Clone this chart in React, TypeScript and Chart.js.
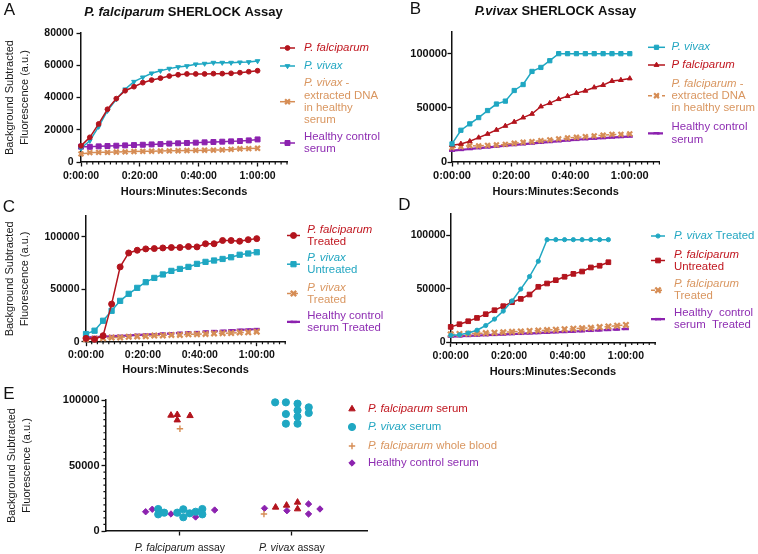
import React, { useEffect, useRef } from 'react';
import { Chart, registerables } from 'chart.js';
import { drawPoint } from 'chart.js/helpers';

Chart.register(...registerables);

const FONT = '"Liberation Sans", Arial, Helvetica, sans-serif';
const INK = '#111111';
const RED = '#B3141D';
const CYAN = '#1FA7C2';
const ORANGE = '#D68D55';
const PURPLE = '#8C22AF';

// ---------------- data ----------------
const timeMin = [0, 3, 6, 9, 12, 15, 18, 21, 24, 27, 30, 33, 36, 39, 42, 45, 48, 51, 54, 57, 60];
const timeTicks = [0, 20, 40, 60];

// Panel A – P. falciparum SHERLOCK assay
const aPfalciparum = [10000, 15300, 23600, 32700, 39300, 44200, 46700, 49200, 50800, 52000, 53300, 54100, 54600, 54600, 54600, 54800, 54800, 55000, 55400, 56000, 56600];
const aPvivax = [8500, 13200, 21900, 31800, 38900, 45100, 49800, 52500, 55000, 56600, 57900, 58900, 59500, 60600, 61000, 61600, 61600, 61600, 61800, 62000, 62600];
const aPvExtracted = [5000, 5800, 6000, 6000, 6200, 6300, 6500, 6600, 6700, 6800, 6900, 7000, 7100, 7200, 7300, 7400, 7500, 7800, 8200, 8300, 8500];
const aHealthy = [9500, 9400, 9700, 9900, 10100, 10300, 10500, 10700, 10900, 11100, 11400, 11600, 11800, 12000, 12200, 12400, 12600, 12800, 13000, 13400, 14000];

// Panel B – P. vivax SHERLOCK assay
const bPvivax = [16700, 29300, 35200, 41000, 47500, 53500, 56200, 66000, 71500, 83600, 87300, 93500, 100000, 100000, 100000, 100000, 100000, 100000, 100000, 100000, 100000];
const bPfalciparum = [15400, 16700, 19100, 22500, 25900, 29600, 33300, 37000, 41000, 44400, 51200, 54300, 58000, 60800, 63600, 65700, 68800, 71000, 74700, 75600, 77100];
const bPfExtracted = [13300, 14200, 15100, 14800, 15400, 15700, 16300, 17300, 18200, 18800, 19700, 20400, 21300, 22200, 22800, 23400, 24100, 24700, 25500, 25500, 25900];
const bHealthy = [10500, 11200, 12000, 12800, 13500, 14200, 15000, 15700, 16400, 17100, 17800, 18500, 19200, 19900, 20500, 21100, 21600, 22100, 22600, 23100, 23500];

// Panel C
const cPfTreated = [3200, 2300, 5700, 35900, 71400, 84700, 87300, 88600, 88900, 89500, 89900, 89900, 90800, 90500, 93500, 93500, 96600, 96600, 95900, 97400, 98400];
const cPvUntreated = [7300, 10500, 20000, 29500, 39000, 45700, 51400, 56800, 60900, 64200, 67600, 69500, 71400, 74300, 76200, 77500, 79000, 80600, 83000, 84200, 85400];
const cPvTreated = [2300, 2900, 3200, 3900, 4100, 4700, 5000, 5300, 5800, 6000, 6400, 6500, 7000, 7200, 7400, 7900, 8100, 8300, 8800, 9000, 9500];
const cHealthyTreated = [4000, 4500, 4700, 5300, 5600, 5900, 6500, 6800, 7100, 7700, 7900, 8400, 8900, 9100, 9600, 10100, 10300, 10800, 11300, 11600, 12000];

// Panel D
const dPvTreated = [6500, 7000, 8700, 11300, 15700, 21700, 29200, 38700, 49800, 61500, 75800, 96000, 96000, 96000, 96000, 96000, 96000, 96000, 96000, null, null];
const dPfUntreated = [14400, 16900, 19700, 22800, 26300, 30000, 33800, 37500, 40600, 44700, 51900, 55000, 58100, 61300, 64000, 66200, 70000, 71600, 74900, null, null];
const dPfTreated = [7500, 7800, 8100, 8300, 8600, 9000, 9400, 9800, 10200, 10600, 11000, 11400, 11800, 12300, 12700, 13200, 13600, 14200, 14800, 15500, 16200];
const dHealthyTreated = [5300, 5600, 6000, 6300, 6700, 7000, 7300, 7700, 8000, 8300, 8700, 9000, 9400, 9700, 10000, 10400, 10800, 11200, 11600, 12000, 12500];

// Panel E – end-point values (x = category position 1 or 2 plus jitter)
const ePfSerumX = [0.92, 0.976, 0.976, 1.09, 1.854, 1.952, 2.05, 2.05];
const ePfSerumY = [88300, 88800, 84700, 88000, 18100, 19600, 21900, 16800];
const ePvSerumX = [0.806, 0.806, 0.86, 0.976, 1.03, 1.03, 1.087, 1.14, 1.2, 1.2, 1.85, 1.946, 2.05, 2.15, 1.946, 2.05, 2.15, 2.05, 1.946, 2.05];
const ePvSerumY = [16800, 12700, 14000, 14000, 16600, 10500, 13500, 14700, 16800, 12700, 98200, 98200, 97200, 94400, 89300, 92100, 90100, 87300, 81900, 81900];
const ePfBloodX = [1.0, 1.75];
const ePfBloodY = [78100, 13000];
const eHealthyX = [0.694, 0.753, 0.92, 1.14, 1.31, 1.755, 1.955, 2.148, 2.148, 2.25];
const eHealthyY = [14700, 16600, 13000, 10700, 16000, 17300, 15500, 20600, 13000, 16800];
const eCategoryPos = [1, 2];

// ---------------- helpers ----------------
type Seg = { t: string; i?: boolean; b?: boolean };
type Marker = { style: string; r: number; rot?: number; bw?: number };
type SeriesStyle = { color: string; text: string; mk: Marker; dash?: number[]; lw?: number };
type LegendItem = { lines: Seg[][]; st: SeriesStyle; y: number };

const timeMinor: number[] = [];
for (let m = 2; m <= 70; m += 2) if (m % 20 !== 0) timeMinor.push(m);
const eYMinor: number[] = [];
for (let v = 5000; v < 100000; v += 5000) if (v !== 50000) eYMinor.push(v);

function fmtTime(v: number) {
  const h = Math.floor(v / 60);
  const m = v % 60;
  return `${h}:${String(m).padStart(2, '0')}:00`;
}

function segFont(s: Seg, size: number) {
  return `${s.i ? 'italic ' : ''}${s.b ? 'bold ' : ''}${size}px ${FONT}`;
}
function segsWidth(ctx: CanvasRenderingContext2D, segs: Seg[], size: number) {
  let w = 0;
  for (const s of segs) {
    ctx.font = segFont(s, size);
    w += ctx.measureText(s.t).width;
  }
  return w;
}
function drawSegs(ctx: CanvasRenderingContext2D, segs: Seg[], x: number, y: number, size: number, color: string, center = false) {
  let cx = center ? x - segsWidth(ctx, segs, size) / 2 : x;
  ctx.fillStyle = color;
  ctx.textAlign = 'left';
  ctx.textBaseline = 'middle';
  for (const s of segs) {
    ctx.font = segFont(s, size);
    ctx.fillText(s.t, cx, y);
    cx += ctx.measureText(s.t).width;
  }
}

function lineDs(label: string, values: (number | null)[], st: SeriesStyle) {
  return {
    label,
    data: timeMin.map((t, i) => ({ x: t, y: values[i] })),
    borderColor: st.color,
    backgroundColor: st.color,
    borderWidth: st.lw ?? 1.5,
    borderDash: st.dash ?? [],
    pointStyle: st.mk.style,
    pointRadius: st.mk.r,
    pointRotation: st.mk.rot ?? 0,
    pointBorderWidth: st.mk.bw ?? 1,
    pointBackgroundColor: st.color,
    pointBorderColor: st.color,
    tension: 0,
    clip: false,
    spanGaps: false,
  };
}

function scatterDs(label: string, xs: number[], ys: number[], st: SeriesStyle) {
  return {
    label,
    data: xs.map((x, i) => ({ x, y: ys[i] })),
    showLine: false,
    borderColor: st.color,
    backgroundColor: st.color,
    pointStyle: st.mk.style,
    pointRadius: st.mk.r,
    pointRotation: st.mk.rot ?? 0,
    pointBorderWidth: st.mk.bw ?? 1,
    pointBackgroundColor: st.color,
    pointBorderColor: st.color,
    clip: false,
  };
}

// ---------------- styles ----------------
const TXT_RED = '#C0161F';
const TXT_CYAN = '#22A6C1';
const TXT_OR = '#D99660';
const TXT_PU = '#8E2DB2';

const aRed: SeriesStyle = { color: RED, text: TXT_RED, mk: { style: 'circle', r: 2.4 } };
const aCyan: SeriesStyle = { color: CYAN, text: TXT_CYAN, mk: { style: 'triangle', r: 2.7, rot: 180 } };
const aOr: SeriesStyle = { color: ORANGE, text: TXT_OR, mk: { style: 'crossRot', r: 3.4, bw: 2.2 } };
const aPu: SeriesStyle = { color: PURPLE, text: TXT_PU, mk: { style: 'rect', r: 3.5 } };

const bCyan: SeriesStyle = { color: CYAN, text: TXT_CYAN, mk: { style: 'rect', r: 3 } };
const bRed: SeriesStyle = { color: RED, text: TXT_RED, mk: { style: 'triangle', r: 2.8 } };
const bOr: SeriesStyle = { color: ORANGE, text: TXT_OR, mk: { style: 'crossRot', r: 3.4, bw: 2.2 }, dash: [4, 3] };
const bPu: SeriesStyle = { color: PURPLE, text: TXT_PU, mk: { style: 'line', r: 3, bw: 2.6 }, dash: [6, 3], lw: 2.2 };

const cRed: SeriesStyle = { color: RED, text: TXT_RED, mk: { style: 'circle', r: 3 } };
const cCyan: SeriesStyle = { color: CYAN, text: TXT_CYAN, mk: { style: 'rect', r: 3.7 } };
const cOr: SeriesStyle = { color: ORANGE, text: TXT_OR, mk: { style: 'crossRot', r: 3.8, bw: 2.3 }, dash: [4, 3] };
const cPu: SeriesStyle = { color: PURPLE, text: TXT_PU, mk: { style: 'line', r: 3, bw: 2.6 }, dash: [6, 3], lw: 2.2 };

const dCyan: SeriesStyle = { color: CYAN, text: TXT_CYAN, mk: { style: 'circle', r: 2.1 } };
const dRed: SeriesStyle = { color: RED, text: TXT_RED, mk: { style: 'rect', r: 3.3 } };
const dOr: SeriesStyle = { color: ORANGE, text: TXT_OR, mk: { style: 'crossRot', r: 3.8, bw: 2.3 }, dash: [4, 3] };
const dPu: SeriesStyle = { color: PURPLE, text: TXT_PU, mk: { style: 'line', r: 3, bw: 2.6 }, dash: [6, 3], lw: 2.2 };

const eRed: SeriesStyle = { color: RED, text: TXT_RED, mk: { style: 'triangle', r: 3.7 } };
const eCyan: SeriesStyle = { color: CYAN, text: TXT_CYAN, mk: { style: 'circle', r: 3.6 } };
const eOr: SeriesStyle = { color: ORANGE, text: TXT_OR, mk: { style: 'cross', r: 3.2, bw: 1.4 } };
const ePu: SeriesStyle = { color: PURPLE, text: TXT_PU, mk: { style: 'rectRot', r: 3.2 } };

// ---------------- panel configs ----------------
interface PanelCfg {
  id: string; x: number; y: number; w: number; h: number;
  kind: 'time' | 'scatter';
  datasets: any[];
  xMin: number; xMax: number; xMajor: number[]; xMinor: number[];
  yMax: number; yMajor: number[]; yMinor: number[];
  yTitle?: string[];
  padding: { left: number; right: number; top: number; bottom: number };
  yWidth: number; xHeight: number; yTickPad: number; xTickPad: number; tickSize: number;
  letter: { t: string; x: number; y: number };
  title?: { segs: Seg[]; x: number; y: number };
  legend: { x0: number; x1: number; tx: number; lh: number; size: number; line: boolean; items: LegendItem[] };
  catLabels?: { segs: Seg[]; v: number }[];
  catY?: number;
}

const Y_TITLE = ['Background Subtracted', 'Fluorescence (a.u.)'];

const panels: PanelCfg[] = [
  {
    id: 'A', x: 0, y: 0, w: 390, h: 200, kind: 'time',
    datasets: [
      lineDs('P. falciparum', aPfalciparum, aRed),
      lineDs('P. vivax', aPvivax, aCyan),
      lineDs('P. vivax - extracted DNA in healthy serum', aPvExtracted, aOr),
      lineDs('Healthy control serum', aHealthy, aPu),
    ],
    xMin: 0, xMax: 70, xMajor: timeTicks, xMinor: timeMinor,
    yMax: 80000, yMajor: [0, 20000, 40000, 60000, 80000], yMinor: [],
    yTitle: Y_TITLE,
    padding: { left: 2.6, top: 33, right: 103, bottom: 1.4 },
    yWidth: 78.4, xHeight: 36.6, yTickPad: 3, xTickPad: 3.4, tickSize: 10.5,
    letter: { t: 'A', x: 9.5, y: 10 },
    title: { segs: [{ t: 'P. falciparum', i: true, b: true }, { t: ' SHERLOCK Assay', b: true }], x: 183.5, y: 12 },
    legend: {
      x0: 280, x1: 295, tx: 304, lh: 12.3, size: 11.4, line: true,
      items: [
        { lines: [[{ t: 'P. falciparum', i: true }]], st: aRed, y: 48 },
        { lines: [[{ t: 'P. vivax', i: true }]], st: aCyan, y: 66 },
        { lines: [[{ t: 'P. vivax', i: true }, { t: ' -' }], [{ t: 'extracted DNA' }], [{ t: 'in healthy' }], [{ t: 'serum' }]], st: aOr, y: 101.7 },
        { lines: [[{ t: 'Healthy control' }], [{ t: 'serum' }]], st: aPu, y: 143 },
      ],
    },
  },
  {
    id: 'B', x: 378, y: 0, w: 380, h: 200, kind: 'time',
    datasets: [
      lineDs('P. vivax', bPvivax, bCyan),
      lineDs('P falciparum', bPfalciparum, bRed),
      lineDs('P. falciparum - extracted DNA in healthy serum', bPfExtracted, bOr),
      lineDs('Healthy control serum', bHealthy, bPu),
    ],
    xMin: 0, xMax: 70, xMajor: timeTicks, xMinor: timeMinor,
    yMax: 120000, yMajor: [0, 50000, 100000], yMinor: [],
    padding: { left: 4, top: 32, right: 98.6, bottom: 1.4 },
    yWidth: 70, xHeight: 36.6, yTickPad: 0.5, xTickPad: 3, tickSize: 11,
    letter: { t: 'B', x: 37.5, y: 9 },
    title: { segs: [{ t: 'P.vivax', i: true, b: true }, { t: ' SHERLOCK Assay', b: true }], x: 177.5, y: 11.7 },
    legend: {
      x0: 270, x1: 287, tx: 293.5, lh: 12.3, size: 11.4, line: true,
      items: [
        { lines: [[{ t: 'P. vivax', i: true }]], st: bCyan, y: 47.3 },
        { lines: [[{ t: 'P falciparum', i: true }]], st: bRed, y: 65 },
        { lines: [[{ t: 'P. falciparum', i: true }, { t: ' -' }], [{ t: 'extracted DNA' }], [{ t: 'in healthy serum' }]], st: bOr, y: 95.7 },
        { lines: [[{ t: 'Healthy control' }], [{ t: 'serum' }]], st: bPu, y: 133.3 },
      ],
    },
  },
  {
    id: 'C', x: 0, y: 190, w: 390, h: 195, kind: 'time',
    datasets: [
      lineDs('P. falciparum Treated', cPfTreated, cRed),
      lineDs('P. vivax Untreated', cPvUntreated, cCyan),
      lineDs('P. vivax Treated', cPvTreated, cOr),
      lineDs('Healthy control serum Treated', cHealthyTreated, cPu),
    ],
    xMin: 0, xMax: 70, xMajor: timeTicks, xMinor: timeMinor,
    yMax: 120000, yMajor: [0, 50000, 100000], yMinor: [],
    yTitle: Y_TITLE,
    padding: { left: 2.6, top: 26, right: 104.8, bottom: 8.4 },
    yWidth: 83.4, xHeight: 34.9, yTickPad: 2, xTickPad: 3, tickSize: 10.5,
    letter: { t: 'C', x: 9, y: 17.5 },
    legend: {
      x0: 287, x1: 300, tx: 307.3, lh: 12.3, size: 11.4, line: true,
      items: [
        { lines: [[{ t: 'P. falciparum', i: true }], [{ t: 'Treated' }]], st: cRed, y: 45.5 },
        { lines: [[{ t: 'P. vivax', i: true }], [{ t: 'Untreated' }]], st: cCyan, y: 74.2 },
        { lines: [[{ t: 'P. vivax', i: true }], [{ t: 'Treated' }]], st: cOr, y: 103.5 },
        { lines: [[{ t: 'Healthy control' }], [{ t: 'serum Treated' }]], st: cPu, y: 131.9 },
      ],
    },
  },
  {
    id: 'D', x: 378, y: 190, w: 380, h: 195, kind: 'time',
    datasets: [
      lineDs('P. vivax Treated', dPvTreated, dCyan),
      lineDs('P. falciparum Untreated', dPfUntreated, dRed),
      lineDs('P. falciparum Treated', dPfTreated, dOr),
      lineDs('Healthy control serum Treated', dHealthyTreated, dPu),
    ],
    xMin: 0, xMax: 70, xMajor: timeTicks, xMinor: timeMinor,
    yMax: 120000, yMajor: [0, 50000, 100000], yMinor: [],
    padding: { left: 4, top: 24, right: 102.9, bottom: 6.7 },
    yWidth: 68.7, xHeight: 36, yTickPad: 0.5, xTickPad: 3.1, tickSize: 10.5,
    letter: { t: 'D', x: 26.5, y: 15 },
    legend: {
      x0: 273, x1: 287, tx: 296, lh: 12.3, size: 11.4, line: true,
      items: [
        { lines: [[{ t: 'P. vivax', i: true }, { t: ' Treated' }]], st: dCyan, y: 46 },
        { lines: [[{ t: 'P. falciparum', i: true }], [{ t: 'Untreated' }]], st: dRed, y: 70.5 },
        { lines: [[{ t: 'P. falciparum', i: true }], [{ t: 'Treated' }]], st: dOr, y: 100.2 },
        { lines: [[{ t: 'Healthy  control' }], [{ t: 'serum  Treated' }]], st: dPu, y: 129.2 },
      ],
    },
  },
  {
    id: 'E', x: 0, y: 385, w: 600, h: 169, kind: 'scatter',
    datasets: [
      scatterDs('P. falciparum serum', ePfSerumX, ePfSerumY, eRed),
      scatterDs('P. vivax serum', ePvSerumX, ePvSerumY, eCyan),
      scatterDs('P. falciparum whole blood', ePfBloodX, ePfBloodY, eOr),
      scatterDs('Healthy control serum', eHealthyX, eHealthyY, ePu),
    ],
    xMin: 0.34, xMax: 2.67, xMajor: eCategoryPos, xMinor: [],
    yMax: 100000, yMajor: [0, 50000, 100000], yMinor: eYMinor,
    yTitle: Y_TITLE,
    padding: { left: 4.6, top: 15, right: 233, bottom: 0 },
    yWidth: 101.4, xHeight: 23, yTickPad: 2, xTickPad: 3, tickSize: 11,
    letter: { t: 'E', x: 9, y: 9 },
    legend: {
      x0: 352, x1: 352, tx: 368, lh: 12.3, size: 11.4, line: false,
      items: [
        { lines: [[{ t: 'P. falciparum', i: true }, { t: ' serum' }]], st: eRed, y: 24 },
        { lines: [[{ t: 'P. vivax', i: true }, { t: ' serum' }]], st: eCyan, y: 42 },
        { lines: [[{ t: 'P. falciparum', i: true }, { t: ' whole blood' }]], st: eOr, y: 61 },
        { lines: [[{ t: 'Healthy control serum' }]], st: ePu, y: 78 },
      ],
    },
    catLabels: [
      { segs: [{ t: 'P. falciparum', i: true }, { t: ' assay' }], v: eCategoryPos[0] },
      { segs: [{ t: 'P. vivax', i: true }, { t: ' assay' }], v: eCategoryPos[1] },
    ],
    catY: 163,
  },
];

// ---------------- chart building ----------------
function makeDeco(cfg: PanelCfg) {
  return {
    id: 'deco' + cfg.id,
    afterDraw(chart: any) {
      const ctx: CanvasRenderingContext2D = chart.ctx;
      const ca = chart.chartArea;
      const xs = chart.scales.x;
      const ys = chart.scales.y;
      ctx.save();
      // minor ticks
      ctx.strokeStyle = INK;
      ctx.lineWidth = 1.2;
      ctx.setLineDash([]);
      ctx.beginPath();
      for (const v of cfg.xMinor) {
        const p = xs.getPixelForValue(v);
        ctx.moveTo(p, ca.bottom);
        ctx.lineTo(p, ca.bottom + 2.6);
      }
      for (const v of cfg.yMinor) {
        const p = ys.getPixelForValue(v);
        ctx.moveTo(ca.left - 2.6, p);
        ctx.lineTo(ca.left, p);
      }
      ctx.stroke();
      // panel letter
      ctx.fillStyle = INK;
      ctx.font = `17px ${FONT}`;
      ctx.textAlign = 'center';
      ctx.textBaseline = 'middle';
      ctx.fillText(cfg.letter.t, cfg.letter.x, cfg.letter.y);
      // title
      if (cfg.title) drawSegs(ctx, cfg.title.segs, cfg.title.x, cfg.title.y, 13, INK, true);
      // category labels
      if (cfg.catLabels) {
        for (const c of cfg.catLabels) {
          drawSegs(ctx, c.segs, xs.getPixelForValue(c.v), cfg.catY || 0, 10.5, '#1a1a1a', true);
        }
      }
      // legend
      const lg = cfg.legend;
      for (const it of lg.items) {
        const st = it.st;
        if (lg.line) {
          ctx.strokeStyle = st.color;
          ctx.lineWidth = st.lw ?? 1.5;
          ctx.setLineDash(st.dash ?? []);
          ctx.beginPath();
          ctx.moveTo(lg.x0, it.y);
          ctx.lineTo(lg.x1, it.y);
          ctx.stroke();
          ctx.setLineDash([]);
        }
        ctx.fillStyle = st.color;
        ctx.strokeStyle = st.color;
        ctx.lineWidth = st.mk.bw ?? 1;
        drawPoint(ctx, { pointStyle: st.mk.style as any, radius: st.mk.r, rotation: st.mk.rot ?? 0, borderWidth: st.mk.bw ?? 1 } as any, (lg.x0 + lg.x1) / 2, it.y);
        const n = it.lines.length;
        it.lines.forEach((ln, k) => {
          const yy = it.y + (k - (n - 1) / 2) * lg.lh;
          drawSegs(ctx, ln, lg.tx, yy, lg.size, st.text);
        });
      }
      ctx.restore();
    },
  };
}

function buildConfig(cfg: PanelCfg): any {
  const isTime = cfg.kind === 'time';
  const tickFont = { family: FONT, size: cfg.tickSize, weight: 'bold' };
  const grid = { display: true, drawOnChartArea: false, drawTicks: true, tickLength: 4.5, tickColor: INK, tickWidth: 1.3, color: INK };
  const border = { display: true, color: INK, width: 1.5 };
  return {
    type: isTime ? 'line' : 'scatter',
    data: { datasets: cfg.datasets },
    options: {
      animation: false,
      responsive: false,
      maintainAspectRatio: false,
      devicePixelRatio: 1,
      events: [],
      layout: { padding: cfg.padding },
      plugins: { legend: { display: false }, tooltip: { enabled: false }, title: { display: false } },
      scales: {
        x: {
          type: 'linear',
          min: cfg.xMin,
          max: cfg.xMax,
          afterBuildTicks: (s: any) => { s.ticks = cfg.xMajor.map((v) => ({ value: v })); },
          afterFit: (s: any) => { s.height = cfg.xHeight; },
          ticks: {
            display: isTime,
            callback: (v: any) => (isTime ? fmtTime(Number(v)) : ''),
            font: tickFont, color: INK, padding: cfg.xTickPad,
            maxRotation: 0, minRotation: 0, autoSkip: false,
          },
          grid, border,
          title: isTime
            ? { display: true, text: 'Hours:Minutes:Seconds', font: { family: FONT, size: 11, weight: 'bold', lineHeight: 1.2 }, color: INK, padding: 0 }
            : { display: false },
        },
        y: {
          type: 'linear',
          min: 0,
          max: cfg.yMax,
          afterBuildTicks: (s: any) => { s.ticks = cfg.yMajor.map((v) => ({ value: v })); },
          afterFit: (s: any) => { s.width = cfg.yWidth; },
          ticks: { callback: (v: any) => String(v), font: tickFont, color: INK, padding: cfg.yTickPad, autoSkip: false },
          grid, border,
          title: cfg.yTitle
            ? { display: true, text: cfg.yTitle, font: { family: FONT, size: 11, lineHeight: 1.35 }, color: '#1a1a1a', padding: 0 }
            : { display: false },
        },
      },
    },
    plugins: [makeDeco(cfg)],
  };
}

function Panel({ cfg }: { cfg: PanelCfg }) {
  const ref = useRef<HTMLCanvasElement>(null);
  useEffect(() => {
    const chart = new Chart(ref.current as HTMLCanvasElement, buildConfig(cfg));
    return () => chart.destroy();
  }, [cfg]);
  return (
    <canvas
      ref={ref}
      width={cfg.w}
      height={cfg.h}
      style={{ position: 'absolute', left: cfg.x, top: cfg.y, width: cfg.w, height: cfg.h }}
    />
  );
}

export default function App() {
  return (
    <div style={{ position: 'absolute', left: 0, top: 0, width: 758, height: 554, background: '#ffffff', overflow: 'hidden' }}>
      {panels.map((p) => (
        <Panel key={p.id} cfg={p} />
      ))}
    </div>
  );
}
